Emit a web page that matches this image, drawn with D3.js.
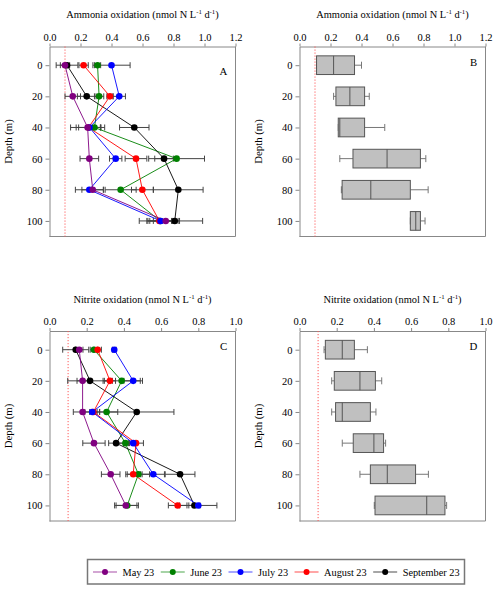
<!DOCTYPE html>
<html>
<head>
<meta charset="utf-8">
<script src="https://cdn.jsdelivr.net/npm/d3@7"></script>
<style>
  body { margin: 0; background: #fff; }
  svg text { font-family: "Liberation Serif", "Times New Roman", "DejaVu Serif", serif; fill: #000; }
</style>
</head>
<body>
<svg id="chart" width="500" height="592" font-family="Liberation Serif, serif"></svg>
<script>
// ---------- Data ----------
const depths = [0, 20, 40, 60, 80, 100];
const months = ["May 23", "June 23", "July 23", "August 23", "September 23"];
const monthColors = ["#800080", "#008000", "#0000ff", "#ff0000", "#000000"];

// Ammonia oxidation means (rows = months, cols = depths)
const ammoniaMeans = [
  [0.10, 0.15, 0.246, 0.257, 0.279, 0.75],
  [0.31, 0.32, 0.29, 0.82, 0.459, 0.715],
  [0.40, 0.45, 0.258, 0.427, 0.257, 0.717],
  [0.22, 0.39, 0.252, 0.558, 0.599, 0.709],
  [0.113, 0.24, 0.547, 0.739, 0.831, 0.808],
];
const ammoniaErrs = [
  [0.03, 0.05, 0.11, 0.06, 0.07, 0.08],
  [0.02, 0.03, 0.04, 0.18, 0.10, 0.08],
  [0.12, 0.04, 0.07, 0.04, 0.09, 0.07],
  [0.03, 0.02, 0.08, 0.07, 0.07, 0.13],
  [0.07, 0.06, 0.095, 0.06, 0.16, 0.18],
];

// Nitrite oxidation means
const nitriteMeans = [
  [0.16, 0.178, 0.178, 0.239, 0.329, 0.41],
  [0.239, 0.388, 0.307, 0.408, 0.478, 0.418],
  [0.348, 0.45, 0.23, 0.45, 0.558, 0.80],
  [0.259, 0.325, 0.236, 0.465, 0.45, 0.689],
  [0.141, 0.218, 0.469, 0.358, 0.702, 0.779],
];
const nitriteErrs = [
  [0.02, 0.03, 0.05, 0.06, 0.05, 0.06],
  [0.02, 0.10, 0.06, 0.05, 0.06, 0.06],
  [0.01, 0.05, 0.04, 0.02, 0.06, 0.10],
  [0.02, 0.03, 0.02, 0.04, 0.04, 0.05],
  [0.07, 0.12, 0.20, 0.04, 0.08, 0.03],
];

// Box plot summaries per depth
const ammoniaBoxLo  = [0.11, 0.22, 0.25, 0.26, 0.27, 0.715];
const ammoniaBoxQ1  = [0.11, 0.235, 0.25, 0.345, 0.275, 0.715];
const ammoniaBoxMed = [0.22, 0.325, 0.26, 0.565, 0.46, 0.75];
const ammoniaBoxQ3  = [0.355, 0.42, 0.42, 0.78, 0.715, 0.78];
const ammoniaBoxHi  = [0.40, 0.45, 0.55, 0.815, 0.83, 0.81];

const nitriteBoxLo  = [0.132, 0.173, 0.173, 0.23, 0.325, 0.402];
const nitriteBoxQ1  = [0.139, 0.187, 0.194, 0.289, 0.381, 0.406];
const nitriteBoxMed = [0.23, 0.325, 0.23, 0.40, 0.472, 0.684];
const nitriteBoxQ3  = [0.295, 0.408, 0.381, 0.452, 0.624, 0.782];
const nitriteBoxHi  = [0.365, 0.442, 0.411, 0.463, 0.693, 0.791];

const ammoniaTicks = [0, 0.2, 0.4, 0.6, 0.8, 1.0, 1.2];
const nitriteTicks = [0, 0.2, 0.4, 0.6, 0.8, 1.0];
const detectionLimit = 0.1;

// ---------- Layout ----------
const FONT = "'Liberation Serif', 'Times New Roman', serif";
const svg = d3.select("#chart");
const frameW = 186, frameH = 190;
const depthDomain = [-12, 110];
const drawOrder = [1, 4, 3, 2, 0]; // June, Sept, Aug, July, May on top

const panels = [
  { letter: "A", left: 49.5, top: 46.5, xMax: 1.2, ticks: ammoniaTicks, name: "Ammonia oxidation", kind: "lines",
    means: ammoniaMeans, errs: ammoniaErrs, letterDy: 24 },
  { letter: "B", left: 299.5, top: 46.5, xMax: 1.2, ticks: ammoniaTicks, name: "Ammonia oxidation", kind: "box",
    box: [ammoniaBoxLo, ammoniaBoxQ1, ammoniaBoxMed, ammoniaBoxQ3, ammoniaBoxHi], letterDy: 15 },
  { letter: "C", left: 49.5, top: 331, xMax: 1.0, ticks: nitriteTicks, name: "Nitrite oxidation", kind: "lines",
    means: nitriteMeans, errs: nitriteErrs, letterDy: 15 },
  { letter: "D", left: 299.5, top: 331, xMax: 1.0, ticks: nitriteTicks, name: "Nitrite oxidation", kind: "box",
    box: [nitriteBoxLo, nitriteBoxQ1, nitriteBoxMed, nitriteBoxQ3, nitriteBoxHi], letterDy: 15 },
];

panels.forEach(drawPanel);

function drawPanel(p) {
  const g = svg.append("g").attr("transform", `translate(${p.left},${p.top})`);
  const x = d3.scaleLinear().domain([0, p.xMax]).range([0, frameW]);
  const y = d3.scaleLinear().domain(depthDomain).range([0, frameH]);

  // title with superscripts
  const t = g.append("text")
    .attr("x", frameW / 2).attr("y", -28.5)
    .attr("text-anchor", "middle").attr("font-size", 10.4).attr("font-family", FONT);
  t.append("tspan").text(p.name + " (nmol N L");
  t.append("tspan").attr("font-size", 6.8).attr("dy", -4).text("-1");
  t.append("tspan").attr("dy", 4).text(" d");
  t.append("tspan").attr("font-size", 6.8).attr("dy", -4).text("-1");
  t.append("tspan").attr("dy", 4).text(")");

  // axes
  const xAxis = g.append("g").call(
    d3.axisTop(x).tickValues(p.ticks).tickFormat(d3.format(".1f"))
      .tickSize(3).tickPadding(3).tickSizeOuter(0));
  const yAxis = g.append("g").call(
    d3.axisLeft(y).tickValues(depths).tickSize(4).tickPadding(3).tickSizeOuter(0));
  [xAxis, yAxis].forEach(a => {
    a.attr("font-family", FONT);
    a.selectAll("path, line").attr("stroke", "#888");
    a.selectAll("text").attr("font-size", 10.5).attr("fill", "#000");
  });
  g.append("path")
    .attr("d", `M${frameW},0V${frameH}H0`)
    .attr("fill", "none").attr("stroke", "#888");

  g.append("text")
    .attr("transform", `translate(${-37.5},${frameH / 2}) rotate(-90)`)
    .attr("text-anchor", "middle").attr("font-size", 10.8).attr("font-family", FONT)
    .text("Depth (m)");

  g.append("text")
    .attr("x", frameW - 12).attr("y", p.letterDy + 4)
    .attr("text-anchor", "middle").attr("font-size", 10.8).attr("font-family", FONT)
    .text(p.letter);

  // detection limit
  g.append("line")
    .attr("x1", x(detectionLimit)).attr("x2", x(detectionLimit))
    .attr("y1", 0).attr("y2", frameH)
    .attr("stroke", "#ff5a5a").attr("stroke-width", 1)
    .attr("stroke-dasharray", "1.2,1.8");

  if (p.kind === "lines") drawLines(g, x, y, p);
  else drawBoxes(g, x, y, p);
}

function drawLines(g, x, y, p) {
  const cap = 3;
  // error bars
  drawOrder.forEach(m => {
    const eg = g.append("g").attr("stroke", "#444").attr("stroke-width", 1);
    depths.forEach((d, i) => {
      const v = p.means[m][i], e = p.errs[m][i];
      eg.append("line").attr("x1", x(v - e)).attr("x2", x(v + e)).attr("y1", y(d)).attr("y2", y(d));
      eg.append("line").attr("x1", x(v - e)).attr("x2", x(v - e)).attr("y1", y(d) - cap).attr("y2", y(d) + cap);
      eg.append("line").attr("x1", x(v + e)).attr("x2", x(v + e)).attr("y1", y(d) - cap).attr("y2", y(d) + cap);
    });
  });
  const line = d3.line().x(d => x(d[1])).y(d => y(d[0]));
  drawOrder.forEach(m => {
    const pts = depths.map((d, i) => [d, p.means[m][i]]);
    g.append("path").datum(pts)
      .attr("d", line).attr("fill", "none")
      .attr("stroke", monthColors[m]).attr("stroke-width", 0.9);
  });
  drawOrder.forEach(m => {
    g.selectAll(null).data(depths.map((d, i) => [d, p.means[m][i]]))
      .enter().append("circle")
      .attr("cx", d => x(d[1])).attr("cy", d => y(d[0]))
      .attr("r", 3.3).attr("fill", monthColors[m]);
  });
}

function drawBoxes(g, x, y, p) {
  const [lo, q1, med, q3, hi] = p.box;
  const half = (y(6) - y(0));
  const cap = 3.5;
  depths.forEach((d, i) => {
    const cy = y(d);
    const wg = g.append("g").attr("stroke", "#777").attr("stroke-width", 1);
    wg.append("line").attr("x1", x(lo[i])).attr("x2", x(q1[i])).attr("y1", cy).attr("y2", cy);
    wg.append("line").attr("x1", x(q3[i])).attr("x2", x(hi[i])).attr("y1", cy).attr("y2", cy);
    wg.append("line").attr("x1", x(lo[i])).attr("x2", x(lo[i])).attr("y1", cy - cap).attr("y2", cy + cap);
    wg.append("line").attr("x1", x(hi[i])).attr("x2", x(hi[i])).attr("y1", cy - cap).attr("y2", cy + cap);
    g.append("rect")
      .attr("x", x(q1[i])).attr("y", cy - half)
      .attr("width", x(q3[i]) - x(q1[i])).attr("height", 2 * half)
      .attr("fill", "#c0c0c0").attr("stroke", "#555").attr("stroke-width", 1);
    g.append("line")
      .attr("x1", x(med[i])).attr("x2", x(med[i]))
      .attr("y1", cy - half).attr("y2", cy + half)
      .attr("stroke", "#555").attr("stroke-width", 1);
  });
}

// ---------- Legend ----------
const legend = svg.append("g").attr("transform", "translate(87.5,559.5)");
legend.append("rect")
  .attr("width", 377).attr("height", 24.5)
  .attr("fill", "#fff").attr("stroke", "#777").attr("stroke-width", 1.5);
let lx = 5.5;
const slots = [];
months.forEach((m, i) => {
  const it = legend.append("g").attr("transform", `translate(${lx},12.5)`);
  it.append("line").attr("x1", 0).attr("x2", 24)
    .attr("stroke", monthColors[i]).attr("stroke-opacity", 0.35).attr("stroke-width", 2);
  it.append("circle").attr("cx", 12).attr("r", 3).attr("fill", monthColors[i]);
  const txt = it.append("text").attr("x", 29.5).attr("y", 3.8)
    .attr("font-size", 10.3).attr("font-family", FONT).text(m);
  lx += 29.5 + txt.node().getComputedTextLength() + 6.5;
});
</script>
</body>
</html>
